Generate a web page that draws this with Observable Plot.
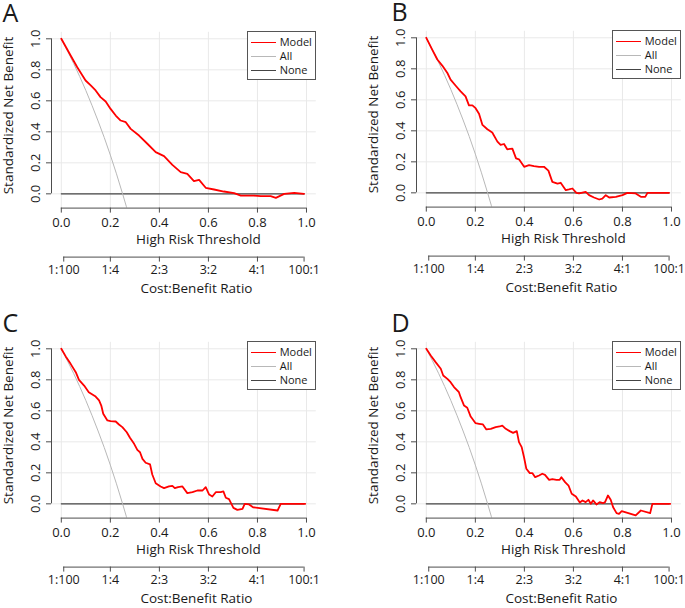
<!DOCTYPE html>
<html><head><meta charset="utf-8">
<script src="https://cdn.jsdelivr.net/npm/d3@7"></script>
<script src="https://cdn.jsdelivr.net/npm/@observablehq/plot@0.6"></script>
<style>
body{margin:0;background:#fff;font-family:"Open Sans",sans-serif;}
#root{position:relative;width:685px;height:608px;overflow:hidden;background:#fff;}
.panel{position:absolute;width:342px;height:304px;}
.panel svg{overflow:visible;}
.legend{position:absolute;box-sizing:border-box;border:1px solid #555;background:#fff;font-family:"Open Sans",sans-serif;font-size:11px;color:#1a1a1a;}
.legend .row{position:absolute;left:0;height:14px;}
.legend .sw{position:absolute;left:3px;width:25px;top:0;}
.legend .lb{position:absolute;left:32px;top:-8px;line-height:16px;white-space:nowrap;}
</style></head><body><div id="root"></div>
<script>
// ---- axis / tick data ----
const xTicks = [0, 0.2, 0.4, 0.6, 0.8, 1.0];
const yTicks = [0, 0.2, 0.4, 0.6, 0.8, 1.0];
const costPos = [0.0099, 0.2, 0.4, 0.6, 0.8, 0.9901];
const costLabels = ["1:100", "1:4", "2:3", "3:2", "4:1", "100:1"];
const xDomain = [-0.04, 1.04];
const yDomain = [-0.092, 1.042];
const legendNames = ["Model", "All", "None"];
const legendColors = ["#ff0000", "#b8b8b8", "#444444"];
const legendWidths = [1.8, 1, 1.2];

// ---- "All" and "None" reference strategies ----
const allT = [0, 0.025, 0.05, 0.075, 0.1, 0.125, 0.15, 0.175, 0.2, 0.225, 0.25, 0.265, 0.28];
const allV = [1.0, 0.923, 0.842, 0.757, 0.667, 0.571, 0.47, 0.364, 0.25, 0.129, 0.0, -0.08, -0.17];
const noneT = [0, 0.99];
const noneV = [0, 0];

// ---- Model curves ----
const modelA_t = [0,.038,.065,.099,.12,.14,.16,.181,.201,.222,.242,.263,.283,.317,.351,.385,.419,.453,.487,.514,.541,.562,.589,.623,.663,.705,.732,.786,.814,.854,.875,.909,.95,.99];
const modelA_v = [1.0,.892,.817,.731,.699,.667,.624,.596,.548,.505,.473,.462,.419,.376,.323,.269,.243,.187,.14,.129,.082,.09,.039,.028,.015,.004,-.011,-.011,-.015,-.015,-.026,0,.006,0];

const modelB_t = [0,.024,.045,.065,.086,.099,.12,.14,.16,.174,.188,.201,.215,.229,.249,.269,.29,.303,.317,.33,.351,.366,.378,.399,.419,.439,.46,.48,.498,.514,.535,.548,.569,.582,.596,.612,.623,.65,.664,.684,.705,.718,.732,.746,.773,.8,.82,.854,.875,.893,.902,.99];
const modelB_v = [1.0,.924,.86,.821,.773,.73,.691,.654,.622,.564,.564,.546,.51,.438,.41,.389,.33,.309,.315,.281,.285,.222,.216,.168,.179,.173,.168,.168,.143,.071,.06,.065,.017,.022,.028,0,-.004,.006,-.015,-.03,-.043,-.037,-.015,-.03,-.026,-.015,0,-.004,-.026,-.026,0,0];

const modelC_t = [0,.018,.038,.059,.072,.093,.112,.14,.154,.163,.171,.188,.201,.222,.235,.249,.267,.28,.297,.31,.321,.331,.344,.362,.371,.385,.405,.419,.439,.453,.463,.476,.494,.514,.535,.555,.576,.589,.603,.616,.63,.65,.661,.671,.684,.702,.718,.739,.748,.766,.782,.882,.895,.995];
const modelC_v = [1.0,.951,.903,.849,.8,.763,.72,.692,.667,.634,.581,.538,.533,.531,.512,.495,.462,.426,.387,.348,.333,.29,.265,.254,.189,.133,.112,.101,.112,.116,.101,.108,.112,.069,.075,.086,.086,.108,.06,.047,.075,.075,.08,.039,.03,-.026,-.039,-.032,0,-.004,-.022,-.043,0,0];

const modelD_t = [0,.018,.038,.059,.069,.086,.099,.113,.133,.14,.154,.167,.181,.201,.215,.231,.245,.263,.283,.299,.31,.324,.34,.354,.369,.378,.389,.399,.408,.422,.433,.444,.46,.473,.484,.501,.514,.531,.544,.551,.566,.58,.593,.61,.626,.637,.65,.661,.671,.68,.694,.707,.721,.729,.741,.752,.762,.776,.786,.797,.854,.875,.913,.922,.995];
const modelD_v = [1.0,.957,.914,.871,.828,.806,.785,.753,.72,.688,.634,.62,.563,.52,.516,.512,.48,.484,.495,.499,.505,.484,.469,.458,.469,.398,.366,.297,.226,.198,.198,.172,.183,.194,.187,.155,.159,.155,.155,.172,.14,.118,.065,.047,.009,.022,.011,.026,0,.022,-.004,.011,.004,.011,.054,.026,-.022,-.06,-.065,-.047,-.075,-.043,-.06,0,0];

const AXIS = "#4d4d4d", TXT = "#1a1a1a";
const toRows = (T, V) => T.map((t, i) => ({t, v: V[i]}));

function makePanel(letter, T, V, labelDx) {
  const model = toRows(T, V), all = toRows(allT, allV), none = toRows(noneT, noneV);
  return Plot.plot({
    width: 342, height: 304,
    marginLeft: 51, marginRight: 26.2, marginTop: 31.8, marginBottom: 96.4,
    x: {domain: xDomain}, y: {domain: yDomain},
    style: {fontFamily: "'Open Sans', sans-serif", fontSize: "13px", color: TXT, background: "transparent"},
    marks: [
      Plot.gridX(xTicks, {stroke: "#e9e9e9", strokeOpacity: 1}),
      Plot.gridY(yTicks, {stroke: "#e9e9e9", strokeOpacity: 1}),
      Plot.line(none, {x: "t", y: "v", stroke: legendColors[2], strokeWidth: legendWidths[2]}),
      Plot.line(all, {x: "t", y: "v", stroke: legendColors[1], strokeWidth: legendWidths[1], clip: true}),
      Plot.line(model, {x: "t", y: "v", stroke: legendColors[0], strokeWidth: legendWidths[0], clip: true}),
      Plot.axisX(xTicks, {tickFormat: d3.format(".1f"), tickSize: 5, tickPadding: 5, stroke: AXIS, fill: TXT, label: null}),
      Plot.ruleY([yDomain[0]], {x1: xTicks[0], x2: xTicks[xTicks.length - 1], stroke: AXIS}),
      Plot.axisY(yTicks, {tickFormat: d3.format(".1f"), tickSize: 5, tickPadding: 7, tickRotate: -90, stroke: AXIS, fill: TXT, label: null}),
      Plot.ruleX([xDomain[0]], {y1: yTicks[0], y2: yTicks[yTicks.length - 1], stroke: AXIS}),
      Plot.text(["High Risk Threshold"], {text: d => d, frameAnchor: "bottom", textAnchor: "middle", dx: 14.5, dy: 36, fontSize: 13.5, fill: TXT}),
      Plot.ruleY([yDomain[0]], {x1: costPos[0], x2: costPos[costPos.length - 1], dy: 49, stroke: AXIS}),
      Plot.ruleX(costPos, {x: d => d, y1: yDomain[0], y2: yDomain[0], insetBottom: -5, dy: 49, stroke: AXIS}),
      Plot.text(costPos, {x: d => d, text: (d, i) => costLabels[i], frameAnchor: "bottom", dy: 66, fontSize: 12.5, fill: TXT}),
      Plot.text(["Cost:Benefit Ratio"], {text: d => d, frameAnchor: "bottom", textAnchor: "middle", dx: 12.5, dy: 84.5, fontSize: 13.5, fill: TXT}),
      Plot.text(["Standardized Net Benefit"], {text: d => d, frameAnchor: "left", textAnchor: "middle", rotate: -90, dx: -43, dy: -4.7, fontSize: 13.5, fill: TXT}),
      Plot.text([letter], {text: d => d, frameAnchor: "top-left", textAnchor: "start", lineAnchor: "top", dx: labelDx, dy: -28.5, fontSize: 25, fill: TXT})
    ]
  });
}

function makeLegend() {
  const lg = document.createElement("div");
  lg.className = "legend";
  Object.assign(lg.style, {left: "246.7px", top: "31px", width: "69.3px", height: "49px"});
  legendNames.forEach((name, i) => {
    const row = document.createElement("div");
    row.className = "row";
    row.style.top = (10 + i * 14.2) + "px";
    row.style.width = "100%";
    const sw = document.createElement("div");
    sw.className = "sw";
    sw.style.borderTop = legendWidths[i] + "px solid " + legendColors[i];
    const lb = document.createElement("div");
    lb.className = "lb";
    lb.textContent = name;
    row.appendChild(sw); row.appendChild(lb);
    lg.appendChild(row);
  });
  return lg;
}

const panels = [
  {letter: "A", T: modelA_t, V: modelA_v, left: 0, top: 0, dx: -49},
  {letter: "B", T: modelB_t, V: modelB_v, left: 365, top: -1, dx: -25},
  {letter: "C", T: modelC_t, V: modelC_v, left: 0, top: 310, dx: -49},
  {letter: "D", T: modelD_t, V: modelD_v, left: 365, top: 310, dx: -25}
];
const root = document.getElementById("root");
for (const p of panels) {
  const div = document.createElement("div");
  div.className = "panel";
  div.style.left = p.left + "px";
  div.style.top = p.top + "px";
  div.appendChild(makePanel(p.letter, p.T, p.V, p.dx));
  div.appendChild(makeLegend());
  root.appendChild(div);
}
</script></body></html>
